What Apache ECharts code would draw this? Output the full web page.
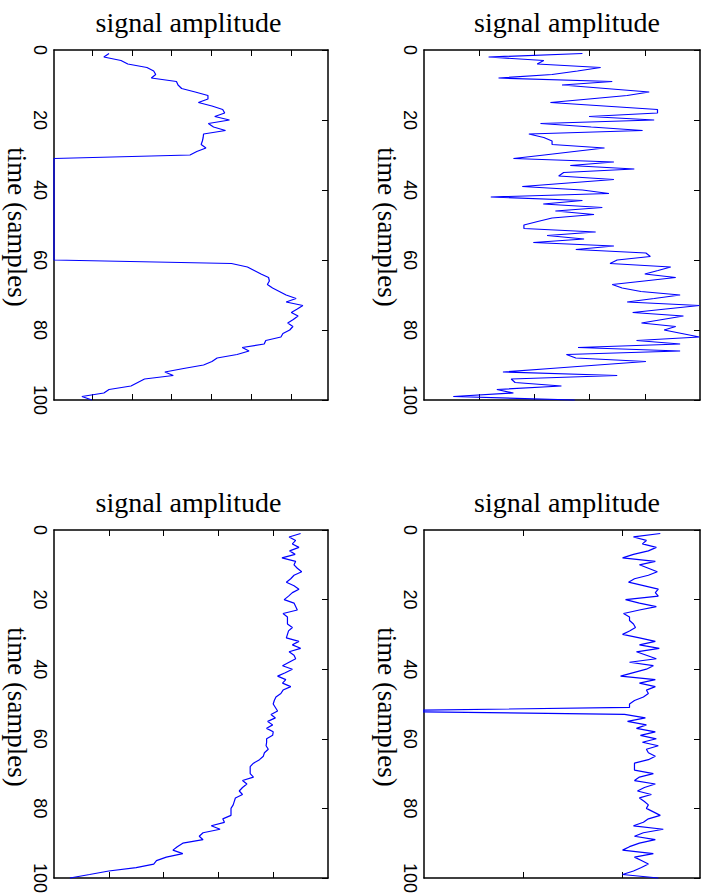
<!DOCTYPE html>
<html>
<head>
<meta charset="utf-8">
<script src="https://cdn.jsdelivr.net/npm/echarts@6/dist/echarts.min.js"></script>
<style>
html,body{margin:0;padding:0;background:#fff;}
#chart{width:709px;height:896px;}
</style>
</head>
<body>
<div id="chart"></div>
<script>
// ---- data ----
const samples = [];
for (let i = 1; i <= 100; i++) samples.push(i);

const timeTicks = [0, 20, 40, 60, 80, 100];
const titleText = 'signal amplitude';
const axisNameText = 'time (samples)';

// panel 1 (top left)
const amp1 = [
  -0.57, -0.70, -0.27, -0.10, 0.38, 0.55, 0.60, 0.49, 1.12, 1.16,
  1.25, 1.59, 1.91, 1.91, 1.67, 2.01, 2.28, 2.33, 2.08, 2.45,
  1.92, 2.05, 2.35, 1.80, 1.79, 1.77, 1.74, 1.86, 1.63, 1.46,
  -1.95, -1.95, -1.95, -1.95, -1.95, -1.95, -1.95, -1.95, -1.95, -1.95,
  -1.95, -1.95, -1.95, -1.95, -1.95, -1.95, -1.95, -1.95, -1.95, -1.95,
  -1.95, -1.95, -1.95, -1.95, -1.95, -1.95, -1.95, -1.95, -1.95, -1.95,
  2.50, 2.90, 3.07, 3.24, 3.43, 3.45, 3.40, 3.53, 3.70, 3.87,
  4.12, 3.87, 4.29, 4.15, 4.00, 4.17, 4.05, 3.91, 4.04, 3.96,
  3.79, 3.74, 3.36, 3.32, 2.77, 2.94, 2.64, 2.14, 2.01, 1.80,
  1.30, 0.83, 1.04, 0.32, 0.15, -0.02, -0.57, -0.70, -1.25, -1.00
];
// panel 2 (top right)
const amp2 = [
  2.87, 1.17, 2.17, 2.05, 3.20, 2.78, 2.32, 1.35, 3.41, 2.50,
  3.29, 4.08, 3.68, 2.99, 2.29, 3.26, 4.23, 4.23, 2.99, 4.17,
  2.11, 3.03, 3.96, 1.90, 2.17, 2.32, 2.32, 3.27, 2.72, 2.18,
  1.62, 3.44, 2.65, 3.81, 2.53, 2.44, 3.44, 2.61, 1.78, 2.87,
  3.35, 1.21, 2.87, 2.16, 3.23, 2.38, 3.08, 2.32, 2.06, 1.81,
  1.81, 3.11, 2.23, 2.90, 1.98, 3.44, 2.75, 4.02, 4.10, 3.50,
  3.37, 4.47, 4.24, 4.00, 4.56, 3.99, 3.41, 3.59, 3.93, 4.64,
  4.17, 3.68, 4.99, 4.38, 3.78, 4.70, 4.32, 3.94, 4.56, 4.35,
  4.67, 4.99, 3.85, 4.64, 2.79, 4.64, 2.58, 2.75, 4.02, 3.15,
  2.29, 1.43, 3.50, 1.58, 1.65, 2.49, 1.32, 1.62, 0.53, 2.73
];
// panel 3 (bottom left)
const amp3 = [
  4.50, 4.29, 4.41, 4.35, 4.47, 4.30, 4.40, 4.16, 4.41, 4.38,
  4.44, 4.52, 4.38, 4.32, 4.24, 4.38, 4.47, 4.35, 4.28, 4.20,
  4.38, 4.41, 4.44, 4.18, 4.26, 4.26, 4.26, 4.35, 4.28, 4.26,
  4.24, 4.47, 4.35, 4.50, 4.29, 4.38, 4.41, 4.29, 4.17, 4.35,
  4.22, 4.08, 4.23, 4.17, 4.32, 4.18, 4.14, 4.05, 4.02, 4.00,
  4.04, 4.08, 3.96, 4.04, 3.90, 3.99, 3.88, 4.00, 3.99, 3.88,
  3.88, 3.87, 3.91, 3.84, 3.82, 3.75, 3.64, 3.58, 3.58, 3.58,
  3.64, 3.44, 3.52, 3.44, 3.38, 3.44, 3.31, 3.29, 3.27, 3.23,
  3.23, 3.23, 3.08, 3.11, 2.87, 3.03, 2.72, 2.65, 2.72, 2.35,
  2.25, 2.17, 2.35, 2.05, 1.87, 1.82, 1.50, 1.00, 0.65, 0.29
];
// panel 4 (bottom right)
const amp4 = [
  2.38, 2.11, 2.24, 2.20, 2.34, 2.26, 2.11, 2.00, 2.33, 2.17,
  2.26, 2.35, 2.26, 2.12, 2.06, 2.21, 2.36, 2.33, 2.36, 2.03,
  2.17, 2.34, 2.17, 2.01, 2.07, 2.07, 2.11, 2.13, 2.07, 2.00,
  2.17, 2.33, 2.17, 2.37, 2.14, 2.24, 2.34, 2.07, 2.31, 2.24,
  2.11, 1.98, 2.33, 2.17, 2.33, 2.24, 2.26, 2.21, 2.12, 2.07,
  2.07, -0.70, 2.02, 2.23, 2.05, 2.24, 2.14, 2.33, 2.18, 2.34,
  2.20, 2.36, 2.24, 2.26, 2.33, 2.26, 2.12, 2.12, 2.12, 2.31,
  2.17, 2.12, 2.33, 2.22, 2.15, 2.29, 2.17, 2.22, 2.26, 2.24,
  2.31, 2.38, 2.26, 2.21, 2.11, 2.41, 2.21, 2.12, 2.33, 2.17,
  2.07, 2.00, 2.31, 2.12, 2.19, 2.26, 2.19, 2.11, 2.00, 2.36
];

// amplitude axis ranges and tick positions (no labels shown)
const ampMin = [-1.95, 0, 0, 0];
const ampMax = [4.92, 5, 5, 2.78];
const ampTicks = [[-1, 0, 1, 2, 3, 4], [1, 2, 3, 4], [1, 2, 3, 4], [1, 2]];
const ampSeries = [amp1, amp2, amp3, amp4];

// ---- layout ----
const layout = [
  { left: 54,  top: 50,  width: 274, height: 350, titleX: 188.5, titleY: 22,  nameX: 17,  nameY: 227 },
  { left: 424, top: 50,  width: 276, height: 350, titleX: 567,   titleY: 22,  nameX: 387, nameY: 227 },
  { left: 54,  top: 530, width: 274, height: 350, titleX: 188.5, titleY: 502, nameX: 17,  nameY: 707 },
  { left: 424, top: 530, width: 276, height: 350, titleX: 567,   titleY: 502, nameX: 387, nameY: 707 }
];

const BLACK = '#000000';
const axisLineStyle = { color: BLACK, width: 1.5 };
const serifFont = '"Liberation Serif", "Times New Roman", serif';

const grids = [], xAxes = [], yAxes = [], series = [], graphics = [];

layout.forEach((p, i) => {
  grids.push({ left: p.left, top: p.top, width: p.width, height: p.height, containLabel: false });
  ['bottom', 'top'].forEach(pos => {
    xAxes.push({
      type: 'value', gridIndex: i, position: pos,
      min: ampMin[i], max: ampMax[i], interval: 1,
      axisLine: { show: true, onZero: false, lineStyle: axisLineStyle },
      axisTick: { show: true, inside: true, length: 6, customValues: ampTicks[i], lineStyle: { color: BLACK, width: 1 } },
      axisLabel: { show: false, customValues: ampTicks[i] },
      splitLine: { show: false }
    });
  });
  ['left', 'right'].forEach(pos => {
    yAxes.push({
      type: 'value', gridIndex: i, position: pos, inverse: true,
      min: timeTicks[0], max: timeTicks[timeTicks.length - 1], interval: timeTicks[1] - timeTicks[0],
      axisLine: { show: true, onZero: false, lineStyle: axisLineStyle },
      axisTick: { show: pos === 'right', inside: true, length: 6, lineStyle: { color: BLACK, width: 1 } },
      axisLabel: pos === 'left'
        ? { show: true, rotate: -90, margin: 5, fontSize: 18, fontFamily: '"Liberation Sans", Arial, sans-serif', color: BLACK }
        : { show: false },
      splitLine: { show: false }
    });
  });
  series.push({
    type: 'line',
    xAxisIndex: 2 * i, yAxisIndex: 2 * i,
    data: samples.map((t, k) => [ampSeries[i][k], t]),
    symbol: 'none', showSymbol: false,
    clip: false,
    lineStyle: { color: '#0000ff', width: 1.2 },
    z: 5,
    animation: false
  });
  graphics.push({
    type: 'text', x: p.titleX, y: p.titleY,
    style: { text: titleText, font: '28px ' + serifFont, fill: BLACK, textAlign: 'center', textVerticalAlign: 'middle' }
  });
  graphics.push({
    type: 'text', x: p.nameX, y: p.nameY, rotation: -Math.PI / 2,
    style: { text: axisNameText, font: '27px ' + serifFont, fill: BLACK, textAlign: 'center', textVerticalAlign: 'middle' }
  });
});

const chart = echarts.init(document.getElementById('chart'), null, { renderer: 'svg' });
chart.setOption({
  backgroundColor: '#ffffff',
  animation: false,
  grid: grids,
  xAxis: xAxes,
  yAxis: yAxes,
  series: series,
  graphic: graphics
});
</script>
</body>
</html>
